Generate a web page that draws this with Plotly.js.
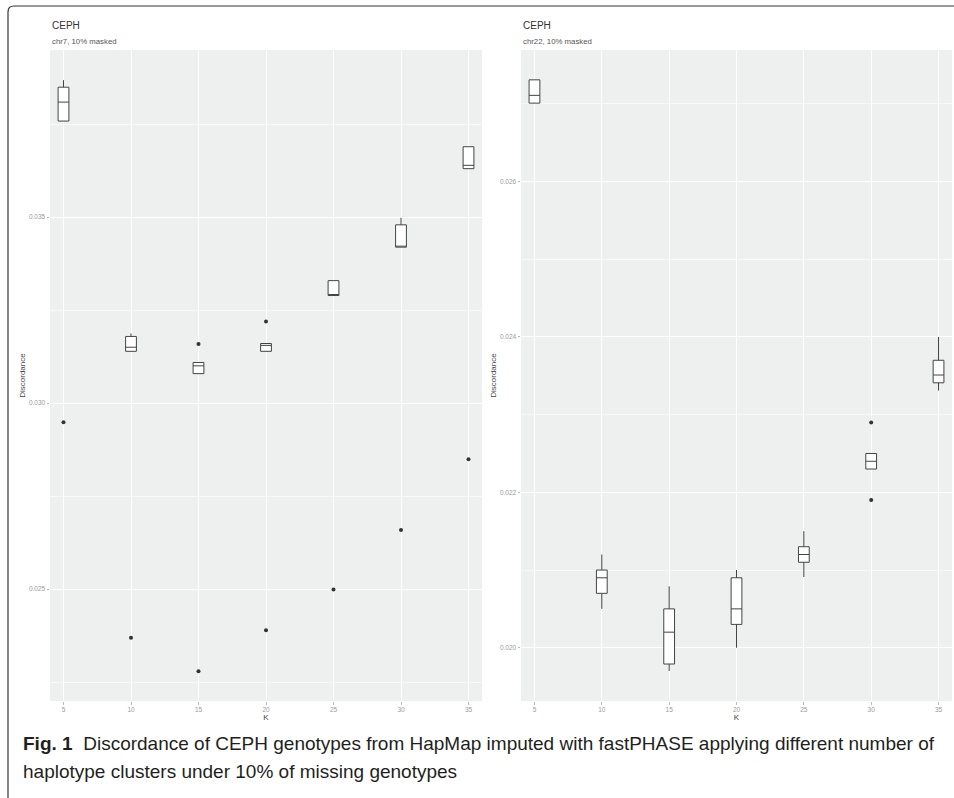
<!DOCTYPE html>
<html><head><meta charset="utf-8">
<script src="https://cdn.plot.ly/plotly-3.0.1.min.js"></script>
<style>html,body{margin:0;padding:0;background:#fff;}</style>
</head><body><div id="chart" style="width:954px;height:798px;"></div>
<script>
// ---- data ----
const K = [5, 10, 15, 20, 25, 30, 35];
const kTicks = [5, 10, 15, 20, 25, 30, 35];

// chr7 boxes
const chr7_lower  = [0.03758, 0.03139, 0.03079, 0.03139, 0.03289, 0.03419, 0.03630];
const chr7_q1     = [0.03758, 0.03139, 0.03079, 0.03139, 0.03289, 0.03419, 0.03630];
const chr7_median = [0.03809, 0.03150, 0.03100, 0.03155, 0.03291, 0.03421, 0.03639];
const chr7_q3     = [0.03849, 0.03179, 0.03109, 0.03160, 0.03329, 0.03479, 0.03689];
const chr7_upper  = [0.03868, 0.03187, 0.03109, 0.03160, 0.03329, 0.03498, 0.03689];
const chr7_outK   = [5, 10, 15, 15, 20, 20, 25, 30, 35];
const chr7_outY   = [0.02948, 0.02369, 0.03159, 0.02279, 0.03219, 0.02389, 0.02499, 0.02659, 0.02849];

// chr22 boxes
const chr22_lower  = [0.02701, 0.02050, 0.01970, 0.02000, 0.02091, 0.02230, 0.02331];
const chr22_q1     = [0.02701, 0.02070, 0.01979, 0.02030, 0.02110, 0.02230, 0.02341];
const chr22_median = [0.02711, 0.02090, 0.02020, 0.02050, 0.02120, 0.02240, 0.02351];
const chr22_q3     = [0.02731, 0.02100, 0.02050, 0.02090, 0.02130, 0.02250, 0.02370];
const chr22_upper  = [0.02731, 0.02120, 0.02079, 0.02100, 0.02150, 0.02250, 0.02400];
const chr22_outK   = [30, 30];
const chr22_outY   = [0.02290, 0.02190];

const panelTitles = ["CEPH", "CEPH"];
const panelSubtitles = ["chr7, 10% masked", "chr22, 10% masked"];
const yTitle = "Discordance";
const xTitle = "K";
const captionBold = "Fig. 1";
const captionLine1 = "Discordance of CEPH genotypes from HapMap imputed with fastPHASE applying different number of";
const captionLine2 = "haplotype clusters under 10% of missing genotypes";

// ---- layout helpers ----
const W = 954, H = 798;
const px = v => v / W;
const py = v => 1 - v / H;

const boxStyle = {
  type: 'box', fillcolor: '#ffffff', line: {color: '#444444', width: 1},
  whiskerwidth: 0, width: 0.8, boxpoints: false, showlegend: false, hoverinfo: 'skip'
};

const traces = [
  Object.assign({}, boxStyle, {x: K, q1: chr7_q1, median: chr7_median, q3: chr7_q3,
    lowerfence: chr7_lower, upperfence: chr7_upper, xaxis: 'x', yaxis: 'y'}),
  {type: 'scatter', mode: 'markers', x: chr7_outK, y: chr7_outY, xaxis: 'x', yaxis: 'y',
    marker: {color: '#333333', size: 4}, showlegend: false, hoverinfo: 'skip'},
  Object.assign({}, boxStyle, {x: K, q1: chr22_q1, median: chr22_median, q3: chr22_q3,
    lowerfence: chr22_lower, upperfence: chr22_upper, xaxis: 'x2', yaxis: 'y2'}),
  {type: 'scatter', mode: 'markers', x: chr22_outK, y: chr22_outY, xaxis: 'x2', yaxis: 'y2',
    marker: {color: '#333333', size: 4}, showlegend: false, hoverinfo: 'skip'}
];

const tickFont = {family: 'Liberation Sans, Arial, sans-serif', size: 6.5, color: '#9a9a9a'};
const titleFont = {family: 'Liberation Sans, Arial, sans-serif', size: 8, color: '#444444'};

function xAxis(dom) {
  return {domain: dom, range: [4, 36], tickvals: kTicks, ticktext: kTicks.map(String),
    ticks: 'outside', ticklen: 2.5, tickcolor: '#aaaaaa', tickwidth: 0.8,
    tickfont: tickFont, showgrid: true, gridcolor: '#ffffff', gridwidth: 1,
    zeroline: false, showline: false, fixedrange: true,
    title: {text: xTitle, font: titleFont, standoff: 2}};
}
function yAxis(range, dtick, minorDtick, anchor) {
  return {domain: [py(701), py(50)], range: range, dtick: dtick, tick0: 0, tickformat: '.3f',
    ticks: 'outside', ticklen: 2.5, tickcolor: '#aaaaaa', tickwidth: 0.8,
    tickfont: tickFont, showgrid: true, gridcolor: '#ffffff', gridwidth: 1,
    minor: {dtick: minorDtick, tick0: 0, showgrid: true, gridcolor: '#ffffff', gridwidth: 0.6, ticks: ''},
    zeroline: false, showline: false, fixedrange: true, anchor: anchor,
    title: {text: yTitle, font: titleFont, standoff: 2}};
}

const r = 6;
const framePath = `M ${px(8)},${py(800)} L ${px(8)},${py(6 + r)} Q ${px(8)},${py(6)} ${px(8 + r)},${py(6)} L ${px(956)},${py(6)}`;
const capFont = {family: 'Liberation Sans, Arial, sans-serif', size: 19, color: '#231f20'};

const layout = {
  width: W, height: H,
  margin: {l: 0, r: 0, t: 0, b: 0},
  paper_bgcolor: '#ffffff', plot_bgcolor: '#eeefef',
  showlegend: false,
  xaxis: xAxis([px(50), px(482)]),
  yaxis: yAxis([0.02199, 0.03949], 0.005, 0.0025, 'x'),
  xaxis2: Object.assign(xAxis([px(521), px(952)]), {anchor: 'y2'}),
  yaxis2: yAxis([0.019314, 0.027694], 0.002, 0.001, 'x2'),
  shapes: [
    {type: 'path', xref: 'paper', yref: 'paper', path: framePath,
     line: {color: '#333333', width: 1.2}}
  ],
  annotations: [
    {xref: 'paper', yref: 'paper', x: px(50), y: py(26), xanchor: 'left', yanchor: 'middle',
     text: panelTitles[0], showarrow: false, font: {family: 'Liberation Sans, Arial, sans-serif', size: 10, color: '#333333'}},
    {xref: 'paper', yref: 'paper', x: px(50), y: py(42), xanchor: 'left', yanchor: 'middle',
     text: panelSubtitles[0], showarrow: false, font: {family: 'Liberation Sans, Arial, sans-serif', size: 7.8, color: '#555555'}},
    {xref: 'paper', yref: 'paper', x: px(521), y: py(26), xanchor: 'left', yanchor: 'middle',
     text: panelTitles[1], showarrow: false, font: {family: 'Liberation Sans, Arial, sans-serif', size: 10, color: '#333333'}},
    {xref: 'paper', yref: 'paper', x: px(521), y: py(42), xanchor: 'left', yanchor: 'middle',
     text: panelSubtitles[1], showarrow: false, font: {family: 'Liberation Sans, Arial, sans-serif', size: 7.8, color: '#555555'}},
    {xref: 'paper', yref: 'paper', x: px(21), y: py(743), xanchor: 'left', yanchor: 'middle',
     text: '<b>' + captionBold + '</b>  ' + captionLine1, showarrow: false, font: capFont},
    {xref: 'paper', yref: 'paper', x: px(21), y: py(771), xanchor: 'left', yanchor: 'middle',
     text: captionLine2, showarrow: false, font: capFont}
  ]
};

Plotly.newPlot('chart', traces, layout, {displayModeBar: false, staticPlot: true});
</script>
</body></html>
